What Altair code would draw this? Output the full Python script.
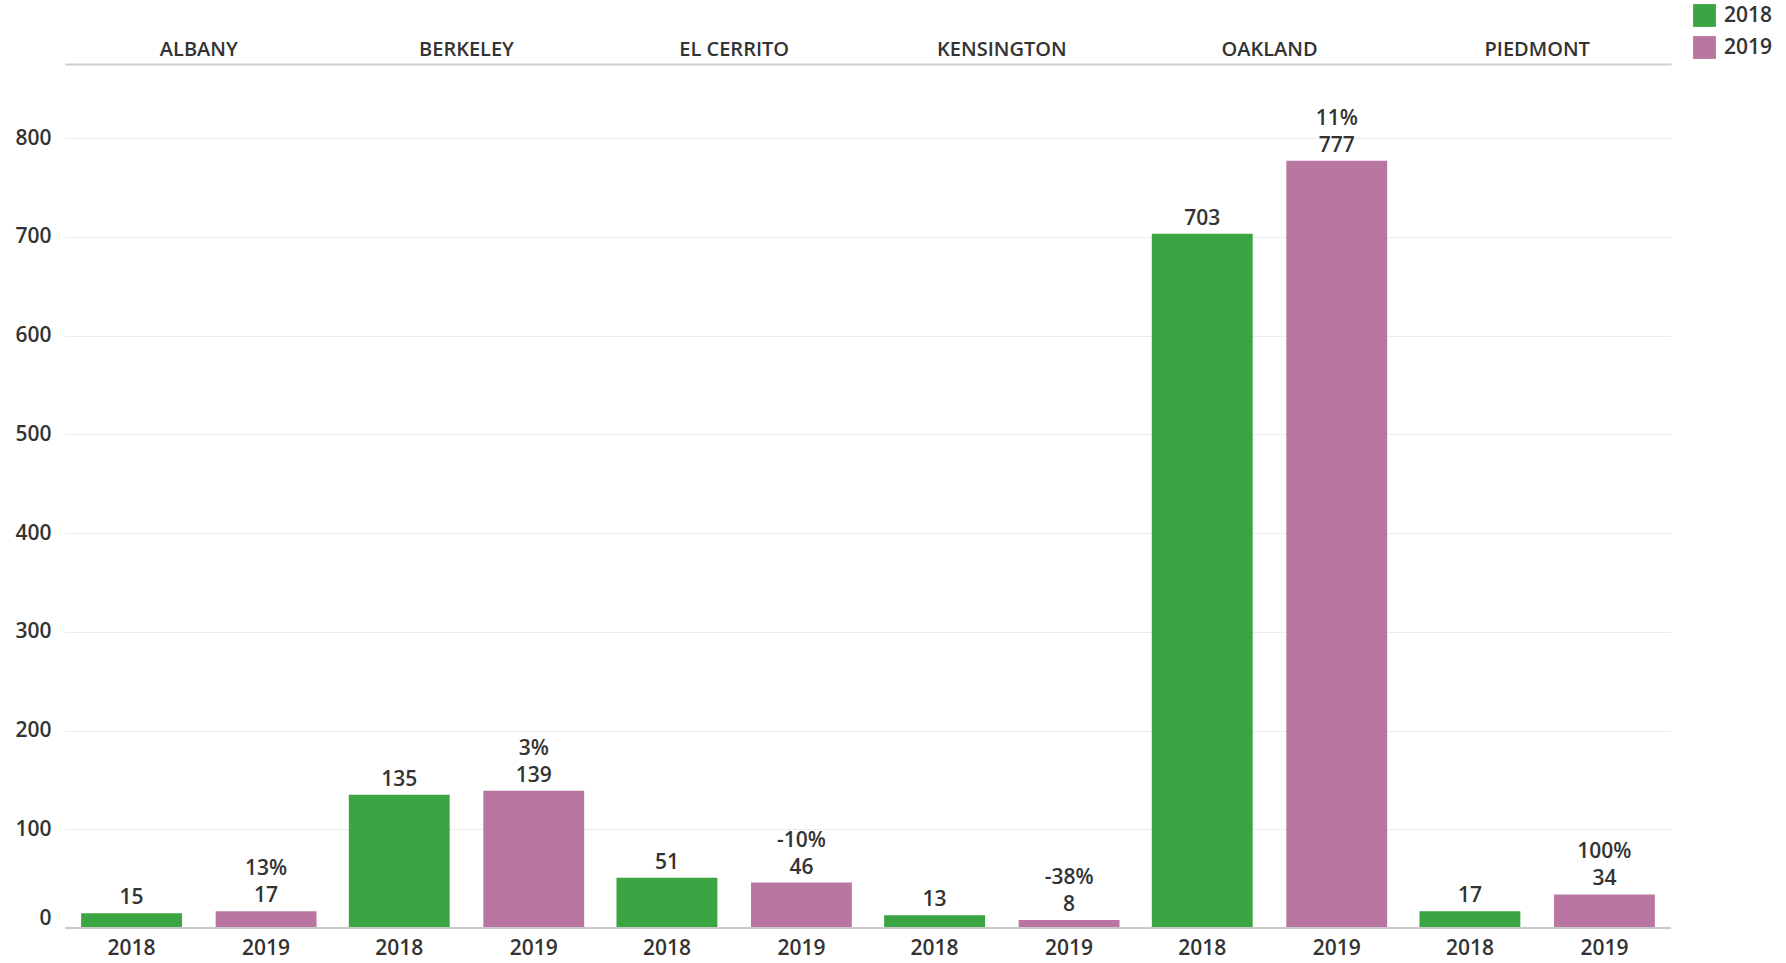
import altair as alt
import pandas as pd

cities = ["ALBANY", "BERKELEY", "EL CERRITO", "KENSINGTON", "OAKLAND", "PIEDMONT"]
years = ["2018", "2019"]
values_2018 = [15, 135, 51, 13, 703, 17]
values_2019 = [17, 139, 46, 8, 777, 34]
pct_change_2019 = ["13%", "3%", "-10%", "-38%", "11%", "100%"]
y_ticks = [0, 100, 200, 300, 400, 500, 600, 700, 800]
colors = ["#3aa542", "#b976a1"]

rows = []
for i, c in enumerate(cities):
    rows.append({"city": c, "year": "2018", "value": values_2018[i], "pct": ""})
    rows.append({"city": c, "year": "2019", "value": values_2019[i],
                 "pct": pct_change_2019[i]})
df = pd.DataFrame(rows)

FONT = "Open Sans"
TXT = "#333333"
FS = 21
W, H = 1606, 864

x = alt.X("city:N", sort=cities,
          scale=alt.Scale(paddingInner=0, paddingOuter=0),
          axis=alt.Axis(orient="top", title=None, ticks=False, tickSize=0,
                        labelPadding=5, domainColor="#cfcfcf", domainWidth=2,
                        labelFontSize=20, labelColor=TXT, labelFont=FONT,
                        labelFontWeight=600, labelAngle=0, grid=False))
xo = alt.XOffset("year:N", sort=years,
                 scale=alt.Scale(paddingInner=0.25, paddingOuter=0.12))
y = alt.Y("value:Q", scale=alt.Scale(domain=[0, 875], nice=False),
          axis=alt.Axis(title=None, values=y_ticks, ticks=False, domain=False,
                        labelPadding=14, labelFontSize=FS, labelColor=TXT,
                        labelFont=FONT, labelFontWeight=600, labelFlush=True,
                        gridColor="#ececec", gridWidth=1))

base = alt.Chart(df)

bars = base.mark_bar().encode(
    x=x, xOffset=xo, y=y,
    color=alt.Color("year:N", scale=alt.Scale(domain=years, range=colors),
                    legend=alt.Legend(title=None, orient="none", legendX=1628,
                                      legendY=-60, symbolType="square",
                                      symbolSize=520, symbolStrokeWidth=0,
                                      labelFontSize=FS, labelFont=FONT,
                                      labelFontWeight=600, labelColor=TXT,
                                      labelOffset=8, rowPadding=9)),
)

value_labels = base.mark_text(baseline="bottom", dy=-5, fontSize=FS, font=FONT,
                              fontWeight=600, color=TXT).encode(
    x=x, xOffset=xo, y=y, text="value:Q")

pct_labels = base.mark_text(baseline="bottom", dy=-32, fontSize=FS, font=FONT,
                            fontWeight=600, color=TXT).encode(
    x=x, xOffset=xo, y=y, text="pct:N")

year_labels = base.mark_text(baseline="middle", dy=21, fontSize=FS, font=FONT,
                             fontWeight=600, color=TXT).encode(
    x=x, xOffset=xo, y=alt.datum(0), text="year:N")

baseline = base.mark_rule(color="#c8c8c8", strokeWidth=1.5).encode(y=alt.datum(0))

chart = alt.layer(bars, value_labels, pct_labels, baseline, year_labels).properties(
    width=W, height=H,
    background="white",
    padding={"left": 65, "top": 64, "right": 115, "bottom": 35},
    autosize=alt.AutoSizeParams(type="none"),
).configure_view(stroke=None)

chart.save("out.html", embed_options={"renderer": "svg", "actions": False})
